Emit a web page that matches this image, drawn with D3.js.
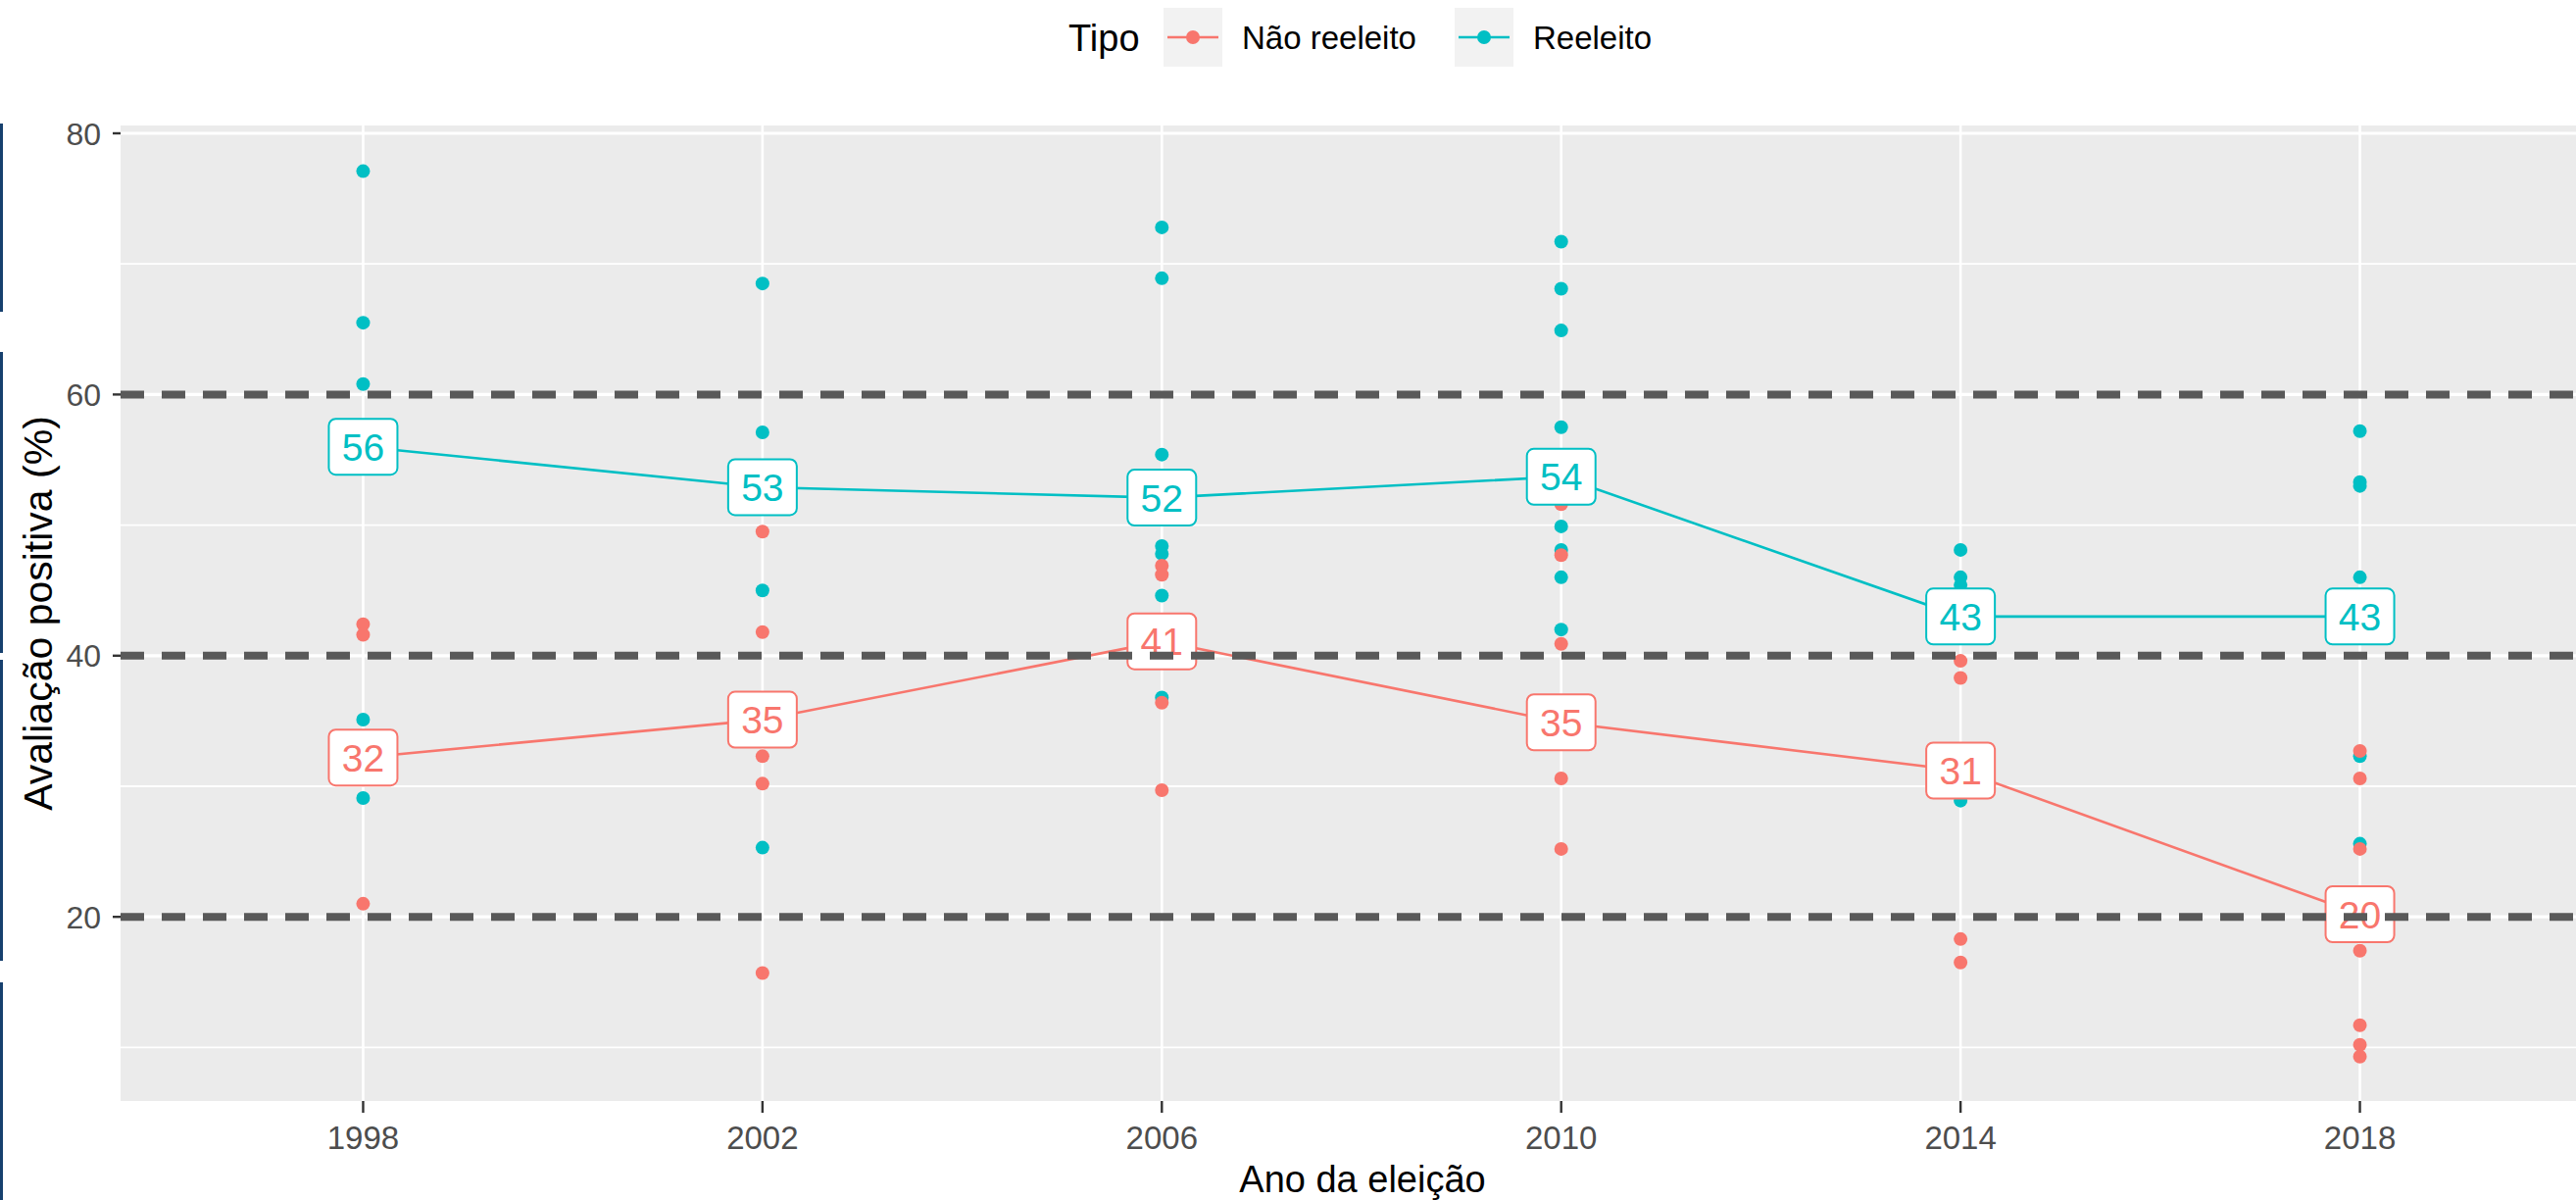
<!DOCTYPE html>
<html>
<head>
<meta charset="utf-8">
<script src="https://cdn.jsdelivr.net/npm/d3@7"></script>
<style>
  html, body { margin: 0; padding: 0; background: #fff; overflow: hidden; }
  text { font-family: "Liberation Sans", Arial, sans-serif; }
</style>
</head>
<body>
<div id="chart"></div>
<script>
// ---- data ----
const anos = [1998, 2002, 2006, 2010, 2014, 2018];
const tipos = ["Não reeleito", "Reeleito"];
const cores = ["#F8766D", "#00BFC4"];

// individual observations [ano, valor]
const reeleitoPontos = [
  [1998, 77.1], [1998, 65.5], [1998, 60.8], [1998, 35.1], [1998, 29.1],
  [2002, 68.5], [2002, 57.1], [2002, 45.0], [2002, 25.3],
  [2006, 72.8], [2006, 68.9], [2006, 55.4], [2006, 48.4], [2006, 47.8], [2006, 44.6], [2006, 36.8],
  [2010, 71.7], [2010, 68.1], [2010, 64.9], [2010, 57.5], [2010, 49.9], [2010, 48.1], [2010, 46.0], [2010, 42.0],
  [2014, 48.1], [2014, 46.0], [2014, 45.4], [2014, 28.9],
  [2018, 57.2], [2018, 53.3], [2018, 53.0], [2018, 46.0], [2018, 32.3], [2018, 25.6]
];
const naoReeleitoPontos = [
  [1998, 42.4], [1998, 41.6], [1998, 21.0],
  [2002, 49.5], [2002, 41.8], [2002, 32.3], [2002, 30.2], [2002, 15.7],
  [2006, 46.9], [2006, 46.2], [2006, 36.4], [2006, 29.7],
  [2010, 51.6], [2010, 47.7], [2010, 40.9], [2010, 30.6], [2010, 25.2],
  [2014, 39.6], [2014, 38.3], [2014, 18.3], [2014, 16.5],
  [2018, 32.7], [2018, 30.6], [2018, 25.2], [2018, 17.4], [2018, 11.7], [2018, 10.2], [2018, 9.3]
];

// yearly means (line + labels)
const reeleitoMedia = [56.0, 52.9, 52.1, 53.7, 43.0, 43.0];
const naoReeleitoMedia = [32.2, 35.1, 41.1, 34.9, 31.2, 20.2];

const yTicks = [20, 40, 60, 80];
const yMinor = [10, 30, 50, 70];
const linhasRef = [20, 40, 60];

// ---- layout ----
const width = 2628, height = 1224;
const panel = { left: 123, right: 2657, top: 128, bottom: 1123 };

const svg = d3.select("#chart").append("svg")
  .attr("width", width).attr("height", height);

const x = d3.scalePoint()
  .domain(anos)
  .range([panel.left + 3, panel.right - 5])
  .padding(0.6);

const y = d3.scaleLinear()
  .domain([5.9, 80.6])
  .range([panel.bottom, panel.top]);

const color = d3.scaleOrdinal().domain(tipos).range(cores);

// panel background + grid
svg.append("rect")
  .attr("x", panel.left).attr("y", panel.top)
  .attr("width", panel.right - panel.left).attr("height", panel.bottom - panel.top)
  .attr("fill", "#EBEBEB");

const grid = svg.append("g");
grid.selectAll(".minor").data(yMinor).enter().append("line")
  .attr("x1", panel.left).attr("x2", panel.right)
  .attr("y1", d => y(d)).attr("y2", d => y(d))
  .attr("stroke", "#fff").attr("stroke-width", 1.8);
grid.selectAll(".major").data(yTicks).enter().append("line")
  .attr("x1", panel.left).attr("x2", panel.right)
  .attr("y1", d => y(d)).attr("y2", d => y(d))
  .attr("stroke", "#fff").attr("stroke-width", 3.2);
grid.selectAll(".vx").data(anos).enter().append("line")
  .attr("x1", d => x(d)).attr("x2", d => x(d))
  .attr("y1", panel.top).attr("y2", panel.bottom)
  .attr("stroke", "#fff").attr("stroke-width", 2.6);

// series
const series = [
  { tipo: "Não reeleito", pontos: naoReeleitoPontos, media: naoReeleitoMedia },
  { tipo: "Reeleito", pontos: reeleitoPontos, media: reeleitoMedia }
];

// points (teal first, red on top)
const ptsLayer = svg.append("g");
[series[1], series[0]].forEach(s => {
  ptsLayer.selectAll(null).data(s.pontos).enter().append("circle")
    .attr("cx", d => x(d[0]))
    .attr("cy", d => y(d[1]))
    .attr("r", 7)
    .attr("fill", color(s.tipo));
});

// mean lines
const line = d3.line().x(d => x(d.ano)).y(d => y(d.v));
series.forEach(s => {
  svg.append("path")
    .datum(anos.map((a, i) => ({ ano: a, v: s.media[i] })))
    .attr("d", line)
    .attr("fill", "none")
    .attr("stroke", color(s.tipo))
    .attr("stroke-width", 2.6);
});

// labels
const labW = 70, labH = 57;
series.forEach(s => {
  const g = svg.append("g").selectAll(null)
    .data(anos.map((a, i) => ({ ano: a, v: s.media[i] })))
    .enter().append("g")
    .attr("transform", d => `translate(${x(d.ano)},${y(d.v)})`);
  g.append("rect")
    .attr("x", -labW / 2).attr("y", -labH / 2)
    .attr("width", labW).attr("height", labH)
    .attr("rx", 7).attr("ry", 7)
    .attr("fill", "#fff")
    .attr("stroke", color(s.tipo))
    .attr("stroke-width", 2);
  g.append("text")
    .attr("text-anchor", "middle")
    .attr("dy", "0.36em")
    .style("font-size", "39px")
    .attr("fill", color(s.tipo))
    .text(d => d3.format(".0f")(d.v));
});

// dashed reference lines (on top)
svg.append("g").selectAll("line").data(linhasRef).enter().append("line")
  .attr("x1", panel.left).attr("x2", panel.right)
  .attr("y1", d => y(d)).attr("y2", d => y(d))
  .attr("stroke", "#595959")
  .attr("stroke-width", 8)
  .attr("stroke-dasharray", "24 18");

// axes
const yAxis = svg.append("g");
yAxis.selectAll("line").data(yTicks).enter().append("line")
  .attr("x1", panel.left - 8).attr("x2", panel.left)
  .attr("y1", d => y(d)).attr("y2", d => y(d))
  .attr("stroke", "#333").attr("stroke-width", 2.4);
yAxis.selectAll("text").data(yTicks).enter().append("text")
  .attr("x", panel.left - 20).attr("y", d => y(d))
  .attr("dy", "0.36em")
  .attr("text-anchor", "end")
  .style("font-size", "32px")
  .attr("fill", "#4D4D4D")
  .text(d => d);

const xAxis = svg.append("g");
xAxis.selectAll("line").data(anos).enter().append("line")
  .attr("x1", d => x(d)).attr("x2", d => x(d))
  .attr("y1", panel.bottom).attr("y2", panel.bottom + 12)
  .attr("stroke", "#333").attr("stroke-width", 2.4);
xAxis.selectAll("text").data(anos).enter().append("text")
  .attr("x", d => x(d)).attr("y", 1172)
  .attr("text-anchor", "middle")
  .style("font-size", "33px")
  .attr("fill", "#4D4D4D")
  .text(d => d);

// axis titles
svg.append("text")
  .attr("x", (panel.left + panel.right) / 2).attr("y", 1216)
  .attr("text-anchor", "middle")
  .style("font-size", "38px")
  .attr("fill", "#000")
  .text("Ano da eleição");

svg.append("text")
  .attr("transform", `translate(53,${(panel.top + panel.bottom) / 2}) rotate(-90)`)
  .attr("text-anchor", "middle")
  .style("font-size", "41px")
  .attr("fill", "#000")
  .text("Avaliação positiva (%)");

// legend
const legend = svg.append("g");
legend.append("text")
  .attr("x", 1090).attr("y", 38).attr("dy", "0.36em")
  .style("font-size", "38px")
  .text("Tipo");

const keyX = [1187, 1484];
tipos.forEach((t, i) => {
  const k = legend.append("g").attr("transform", `translate(${keyX[i]},8)`);
  k.append("rect").attr("width", 60).attr("height", 60).attr("fill", "#F2F2F2");
  k.append("line").attr("x1", 4).attr("x2", 56).attr("y1", 30).attr("y2", 30)
    .attr("stroke", color(t)).attr("stroke-width", 2.6);
  k.append("circle").attr("cx", 30).attr("cy", 30).attr("r", 7).attr("fill", color(t));
  legend.append("text")
    .attr("x", keyX[i] + 80).attr("y", 38).attr("dy", "0.36em")
    .style("font-size", "33px")
    .text(t);
});

// thin navy strip on the far left edge of the screenshot
const faixas = [[126, 318], [359, 666], [673, 980], [1002, 1224]];
svg.append("g").selectAll("rect").data(faixas).enter().append("rect")
  .attr("x", 0).attr("y", d => d[0])
  .attr("width", 3).attr("height", d => d[1] - d[0])
  .attr("fill", "#17406E");
</script>
</body>
</html>
